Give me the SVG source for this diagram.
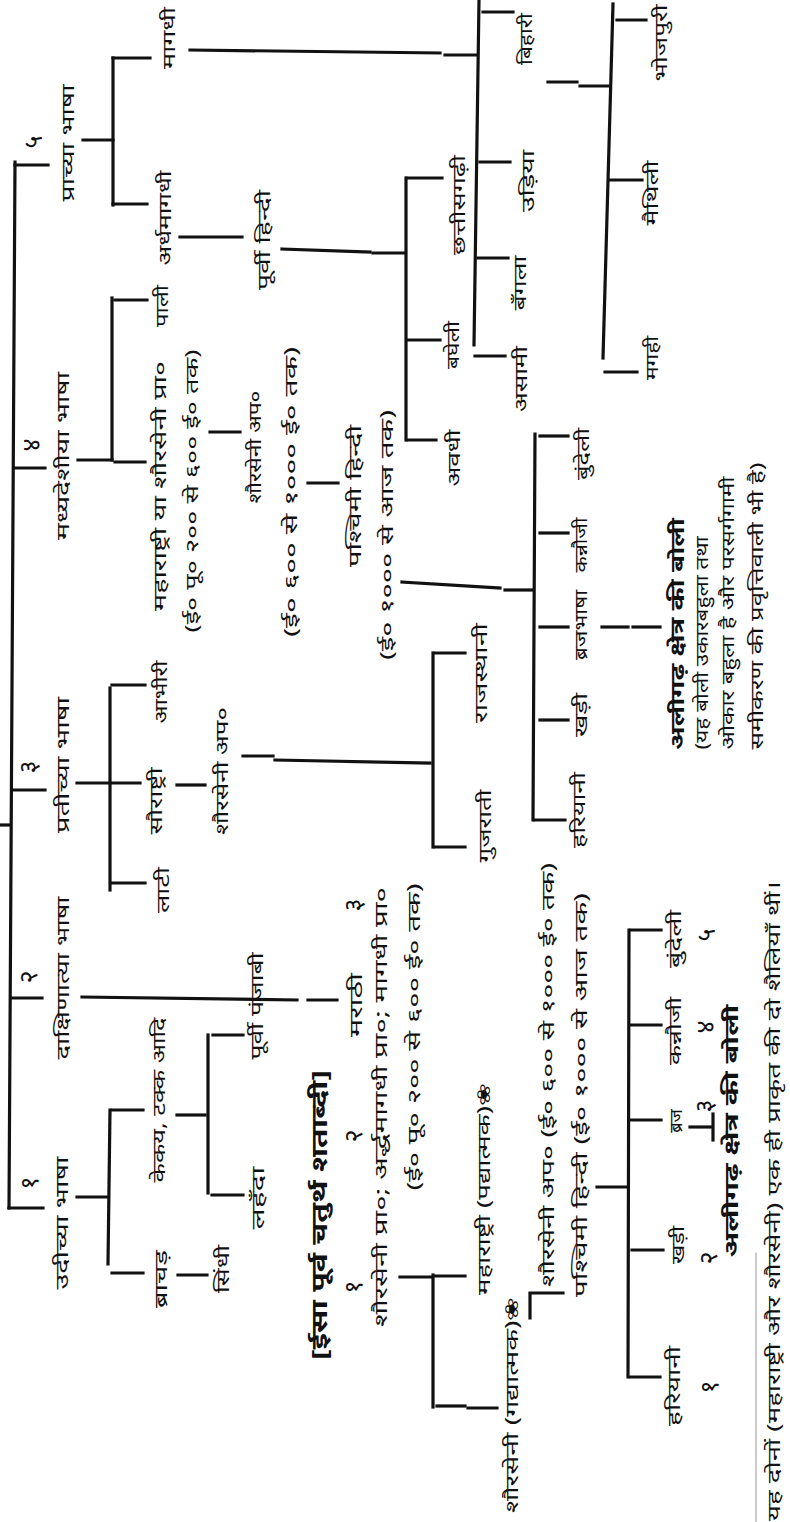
<svg xmlns="http://www.w3.org/2000/svg" width="790" height="1522" viewBox="0 0 790 1522">
<style>
text{font-family:"Noto Sans","Noto Sans Devanagari",sans-serif;fill:#111;text-anchor:middle;dominant-baseline:central;font-size:18px}
.n{font-size:25px}
.b{font-weight:bold;font-size:19px}
.h{font-weight:bold;font-size:22px}
.c line,.c polyline{stroke:#111;stroke-width:3.2;fill:none;stroke-linecap:square}
.c .t{stroke:#999;stroke-width:1}
</style>
<rect width="790" height="1522" fill="#fff"/>
<g class="c" id="connectors">
<line x1="15" y1="162" x2="9" y2="1208"/>
<line x1="0" y1="825" x2="10" y2="825"/>
<line x1="15" y1="165" x2="48" y2="165"/>
<line x1="14" y1="468" x2="45" y2="468"/>
<line x1="12" y1="790" x2="45" y2="790"/>
<line x1="11" y1="998" x2="42" y2="998"/>
<line x1="9" y1="1208" x2="43" y2="1208"/>
<line x1="83" y1="140" x2="113" y2="140"/>
<line x1="113" y1="58" x2="113" y2="205"/>
<line x1="113" y1="58" x2="150" y2="58"/>
<line x1="113" y1="204" x2="147" y2="204"/>
<line x1="190" y1="50" x2="440" y2="53"/>
<line x1="445" y1="55" x2="477" y2="55"/>
<line x1="479" y1="0" x2="474" y2="345"/>
<line x1="483" y1="12" x2="513" y2="12"/>
<line x1="480" y1="162" x2="510" y2="162"/>
<line x1="478" y1="258" x2="508" y2="258"/>
<line x1="475" y1="356" x2="505" y2="356"/>
<line x1="180" y1="237" x2="242" y2="237"/>
<line x1="282" y1="249" x2="370" y2="252"/>
<line x1="373" y1="253" x2="405" y2="253"/>
<line x1="406" y1="178" x2="406" y2="440"/>
<line x1="407" y1="178" x2="442" y2="178"/>
<line x1="407" y1="340" x2="440" y2="340"/>
<line x1="407" y1="440" x2="436" y2="440"/>
<line x1="548" y1="82" x2="577" y2="82"/>
<line x1="580" y1="86" x2="610" y2="86"/>
<line x1="613" y1="4" x2="603" y2="358"/>
<line x1="617" y1="20" x2="646" y2="20"/>
<line x1="610" y1="180" x2="642" y2="180"/>
<line x1="605" y1="372" x2="637" y2="372"/>
<line x1="78" y1="460" x2="112" y2="460"/>
<line x1="112" y1="298" x2="112" y2="460"/>
<line x1="115" y1="300" x2="147" y2="300"/>
<line x1="115" y1="462" x2="145" y2="462"/>
<line x1="210" y1="432" x2="240" y2="432"/>
<line x1="308" y1="483" x2="338" y2="483"/>
<line x1="402" y1="582" x2="500" y2="588"/>
<line x1="505" y1="590" x2="533" y2="590"/>
<line x1="535" y1="434" x2="533" y2="820"/>
<line x1="540" y1="436" x2="568" y2="436"/>
<line x1="540" y1="533" x2="568" y2="533"/>
<line x1="540" y1="627" x2="568" y2="627"/>
<line x1="540" y1="720" x2="568" y2="720"/>
<line x1="535" y1="820" x2="565" y2="820"/>
<line x1="602" y1="627" x2="628" y2="627"/>
<line x1="633" y1="627" x2="660" y2="627"/>
<line x1="77" y1="783" x2="140" y2="783"/>
<line x1="110" y1="688" x2="110" y2="890"/>
<line x1="112" y1="685" x2="145" y2="685"/>
<line x1="112" y1="883" x2="145" y2="883"/>
<line x1="177" y1="785" x2="205" y2="785"/>
<line x1="243" y1="756" x2="273" y2="756"/>
<line x1="275" y1="760" x2="430" y2="763"/>
<line x1="433" y1="653" x2="433" y2="847"/>
<line x1="435" y1="653" x2="465" y2="653"/>
<line x1="435" y1="847" x2="465" y2="847"/>
<line x1="82" y1="997" x2="297" y2="1000"/>
<line x1="308" y1="1000" x2="337" y2="1000"/>
<line x1="77" y1="1197" x2="108" y2="1197"/>
<line x1="110" y1="1110" x2="108" y2="1264"/>
<line x1="112" y1="1110" x2="143" y2="1110"/>
<line x1="112" y1="1273" x2="143" y2="1273"/>
<line x1="177" y1="1115" x2="205" y2="1115"/>
<line x1="208" y1="1035" x2="208" y2="1193"/>
<line x1="213" y1="1035" x2="243" y2="1035"/>
<line x1="212" y1="1195" x2="243" y2="1195"/>
<line x1="178" y1="1275" x2="207" y2="1275"/>
<line x1="400" y1="1277" x2="432" y2="1277"/>
<line x1="433" y1="1275" x2="433" y2="1407"/>
<line x1="435" y1="1276" x2="465" y2="1276"/>
<line x1="437" y1="1406" x2="465" y2="1406"/>
<line x1="468" y1="1408" x2="497" y2="1408"/>
<polyline points="530,1318 530,1293 563,1293"/>
<line x1="597" y1="1187" x2="627" y2="1187"/>
<line x1="629" y1="930" x2="628" y2="1377"/>
<line x1="631" y1="930" x2="661" y2="930"/>
<line x1="631" y1="1025" x2="661" y2="1025"/>
<line x1="631" y1="1120" x2="661" y2="1120"/>
<line x1="632" y1="1250" x2="663" y2="1250"/>
<line x1="630" y1="1377" x2="660" y2="1377"/>
<line x1="690" y1="1127" x2="711" y2="1127"/>
<line x1="713" y1="1114" x2="713" y2="1140"/>
<line class="t" x1="756" y1="1253" x2="756" y2="1522"/>
</g>
<g id="n5"><text class="n" transform="translate(32,142) rotate(-90)">५</text><text transform="translate(67,143) rotate(-90)" textLength="117" lengthAdjust="spacingAndGlyphs">प्राच्या भाषा</text></g>
<g id="magadhi"><text transform="translate(168,38) rotate(-90)" textLength="62" lengthAdjust="spacingAndGlyphs">मागधी</text></g>
<g id="ardhamagadhi"><text transform="translate(164,218) rotate(-90)" textLength="95" lengthAdjust="spacingAndGlyphs">अर्धमागधी</text></g>
<g id="purvi-hindi"><text transform="translate(263,240) rotate(-90)" textLength="100" lengthAdjust="spacingAndGlyphs">पूर्वी हिन्दी</text></g>
<g id="bihari"><text transform="translate(525,39) rotate(-90)" textLength="52" lengthAdjust="spacingAndGlyphs">बिहारी</text></g>
<g id="udiya"><text transform="translate(527,181) rotate(-90)" textLength="62" lengthAdjust="spacingAndGlyphs">उड़िया</text></g>
<g id="bangla"><text transform="translate(519,283) rotate(-90)" textLength="55" lengthAdjust="spacingAndGlyphs">बँगला</text></g>
<g id="asami"><text transform="translate(520,379) rotate(-90)" textLength="66" lengthAdjust="spacingAndGlyphs">असामी</text></g>
<g id="chhattisgarhi"><text transform="translate(458,205) rotate(-90)" textLength="100" lengthAdjust="spacingAndGlyphs">छत्तीसगढ़ी</text></g>
<g id="bagheli"><text transform="translate(452,345) rotate(-90)" textLength="48" lengthAdjust="spacingAndGlyphs">बघेली</text></g>
<g id="awadhi"><text transform="translate(453,458) rotate(-90)" textLength="57" lengthAdjust="spacingAndGlyphs">अवधी</text></g>
<g id="bhojpuri"><text transform="translate(660,43) rotate(-90)" textLength="77" lengthAdjust="spacingAndGlyphs">भोजपुरी</text></g>
<g id="maithili"><text transform="translate(651,193) rotate(-90)" textLength="65" lengthAdjust="spacingAndGlyphs">मैथिली</text></g>
<g id="magahi"><text transform="translate(651,358) rotate(-90)" textLength="44" lengthAdjust="spacingAndGlyphs">मगही</text></g>
<g id="n4"><text class="n" transform="translate(30,445) rotate(-90)">४</text><text transform="translate(62,456) rotate(-90)" textLength="168" lengthAdjust="spacingAndGlyphs">मध्यदेशीया भाषा</text></g>
<g id="pali"><text transform="translate(161,306) rotate(-90)" textLength="42" lengthAdjust="spacingAndGlyphs">पाली</text></g>
<g id="maharashtri-shauraseni"><text transform="translate(159,486) rotate(-90)" textLength="250" lengthAdjust="spacingAndGlyphs">महाराष्ट्री या शौरसेनी प्रा०</text><text transform="translate(191,491) rotate(-90)" textLength="283" lengthAdjust="spacingAndGlyphs">(ई० पू० २०० से ६०० ई० तक)</text></g>
<g id="shauraseni-apa"><text transform="translate(254,447) rotate(-90)" textLength="113" lengthAdjust="spacingAndGlyphs">शौरसेनी अप०</text><text transform="translate(290,492) rotate(-90)" textLength="290" lengthAdjust="spacingAndGlyphs">(ई० ६०० से १००० ई० तक)</text></g>
<g id="pashchimi-hindi"><text transform="translate(354,496) rotate(-90)" textLength="142" lengthAdjust="spacingAndGlyphs">पश्चिमी हिन्दी</text><text transform="translate(386,535) rotate(-90)" textLength="250" lengthAdjust="spacingAndGlyphs">(ई० १००० से आज तक)</text></g>
<g id="bundeli"><text transform="translate(582,454) rotate(-90)" textLength="52" lengthAdjust="spacingAndGlyphs">बुंदेली</text></g>
<g id="kannauji"><text transform="translate(580,545) rotate(-90)" textLength="55" lengthAdjust="spacingAndGlyphs">कन्नौजी</text></g>
<g id="brajbhasha"><text transform="translate(580,625) rotate(-90)" textLength="70" lengthAdjust="spacingAndGlyphs">ब्रजभाषा</text></g>
<g id="khadi"><text transform="translate(580,715) rotate(-90)" textLength="44" lengthAdjust="spacingAndGlyphs">खड़ी</text></g>
<g id="hariyani"><text transform="translate(578,810) rotate(-90)" textLength="76" lengthAdjust="spacingAndGlyphs">हरियानी</text></g>
<g id="aligarh-note"><text class="b" transform="translate(677,634) rotate(-90)" textLength="232" lengthAdjust="spacingAndGlyphs">अलीगढ़ क्षेत्र की बोली</text><text transform="translate(701,643) rotate(-90)" textLength="213" lengthAdjust="spacingAndGlyphs">(यह बोली उकारबहुला तथा</text><text transform="translate(727,613) rotate(-90)" textLength="273" lengthAdjust="spacingAndGlyphs">ओकार बहुला है और परसर्गगामी</text><text transform="translate(756,606) rotate(-90)" textLength="287" lengthAdjust="spacingAndGlyphs">समीकरण की प्रवृत्तिवाली भी है)</text></g>
<g id="n3"><text class="n" transform="translate(27,767) rotate(-90)">३</text><text transform="translate(62,765) rotate(-90)" textLength="136" lengthAdjust="spacingAndGlyphs">प्रतीच्या भाषा</text></g>
<g id="abhiri"><text transform="translate(160,692) rotate(-90)" textLength="63" lengthAdjust="spacingAndGlyphs">आभीरी</text></g>
<g id="saurashtri"><text transform="translate(155,801) rotate(-90)" textLength="67" lengthAdjust="spacingAndGlyphs">सौराष्ट्री</text></g>
<g id="lati"><text transform="translate(162,890) rotate(-90)" textLength="46" lengthAdjust="spacingAndGlyphs">लाटी</text></g>
<g id="shauraseni-apa2"><text transform="translate(221,771) rotate(-90)" textLength="128" lengthAdjust="spacingAndGlyphs">शौरसेनी अप०</text></g>
<g id="rajasthani"><text transform="translate(480,673) rotate(-90)" textLength="100" lengthAdjust="spacingAndGlyphs">राजस्थानी</text></g>
<g id="gujarati"><text transform="translate(484,826) rotate(-90)" textLength="73" lengthAdjust="spacingAndGlyphs">गुजराती</text></g>
<g id="n2"><text class="n" transform="translate(27,977) rotate(-90)">२</text><text transform="translate(62,978) rotate(-90)" textLength="163" lengthAdjust="spacingAndGlyphs">दाक्षिणात्या भाषा</text></g>
<g id="marathi"><text transform="translate(355,1005) rotate(-90)" textLength="64" lengthAdjust="spacingAndGlyphs">मराठी</text></g>
<g id="n1"><text class="n" transform="translate(28,1183) rotate(-90)">१</text><text transform="translate(61,1223) rotate(-90)" textLength="133" lengthAdjust="spacingAndGlyphs">उदीच्या भाषा</text></g>
<g id="kekaya"><text transform="translate(158,1100) rotate(-90)" textLength="165" lengthAdjust="spacingAndGlyphs">केकय, टक्क आदि</text></g>
<g id="purvi-panjabi"><text transform="translate(256,1006) rotate(-90)" textLength="107" lengthAdjust="spacingAndGlyphs">पूर्वी पंजाबी</text></g>
<g id="lahanda"><text transform="translate(257,1198) rotate(-90)" textLength="63" lengthAdjust="spacingAndGlyphs">लहँदा</text></g>
<g id="brachad"><text transform="translate(160,1279) rotate(-90)" textLength="58" lengthAdjust="spacingAndGlyphs">ब्राचड़</text></g>
<g id="sindhi"><text transform="translate(222,1269) rotate(-90)" textLength="48" lengthAdjust="spacingAndGlyphs">सिंधी</text></g>
<g id="era"><text class="h" transform="translate(318,1215) rotate(-90)" textLength="290" lengthAdjust="spacingAndGlyphs">[ईसा पूर्व चतुर्थ शताब्दी]</text></g>
<g id="prakrit"><text class="n" transform="translate(352,1287) rotate(-90)">१</text><text class="n" transform="translate(352,1136) rotate(-90)">२</text><text class="n" transform="translate(352,905) rotate(-90)">३</text><text transform="translate(380,1107) rotate(-90)" textLength="440" lengthAdjust="spacingAndGlyphs">शौरसेनी प्रा०; अर्द्धमागधी प्रा०; मागधी प्रा०</text><text transform="translate(413,1037) rotate(-90)" textLength="307" lengthAdjust="spacingAndGlyphs">(ई० पू० २०० से ६०० ई० तक)</text></g>
<g id="maharashtri-padya"><text transform="translate(483,1189) rotate(-90)" textLength="212" lengthAdjust="spacingAndGlyphs">महाराष्ट्री (पद्यात्मक)❀</text></g>
<g id="shauraseni-gadya"><text transform="translate(511,1405) rotate(-90)" textLength="216" lengthAdjust="spacingAndGlyphs">शौरसेनी (गद्यात्मक)❀</text></g>
<g id="shauraseni-apa3"><text transform="translate(547,1075) rotate(-90)" textLength="424" lengthAdjust="spacingAndGlyphs">शौरसेनी अप० (ई० ६०० से १००० ई० तक)</text></g>
<g id="pashchimi-hindi2"><text transform="translate(580,1095) rotate(-90)" textLength="404" lengthAdjust="spacingAndGlyphs">पश्चिमी हिन्दी (ई० १००० से आज तक)</text></g>
<g id="bundeli2"><text transform="translate(674,939) rotate(-90)" textLength="58" lengthAdjust="spacingAndGlyphs">बुंदेली</text><text class="n" transform="translate(705,935) rotate(-90)">५</text></g>
<g id="kannauji2"><text transform="translate(674,1031) rotate(-90)" textLength="68" lengthAdjust="spacingAndGlyphs">कन्नौजी</text><text class="n" transform="translate(704,1027) rotate(-90)">४</text></g>
<g id="braj"><text transform="translate(675,1121) rotate(-90)">ब्रज</text><text class="n" transform="translate(703,1106) rotate(-90)">३</text></g>
<g id="khadi2"><text transform="translate(677,1245) rotate(-90)" textLength="38" lengthAdjust="spacingAndGlyphs">खड़ी</text><text class="n" transform="translate(707,1258) rotate(-90)">२</text></g>
<g id="hariyani2"><text transform="translate(673,1386) rotate(-90)" textLength="80" lengthAdjust="spacingAndGlyphs">हरियानी</text><text class="n" transform="translate(708,1387) rotate(-90)">१</text></g>
<g id="aligarh2"><text class="b" transform="translate(731,1131) rotate(-90)" textLength="253" lengthAdjust="spacingAndGlyphs">अलीगढ़ क्षेत्र की बोली</text></g>
<g id="footnote"><text transform="translate(773,1201) rotate(-90)" textLength="640" lengthAdjust="spacingAndGlyphs">यह दोनों (महाराष्ट्री और शौरसेनी) एक ही प्राकृत की दो शैलियाँ थीं।</text></g>
</svg>
